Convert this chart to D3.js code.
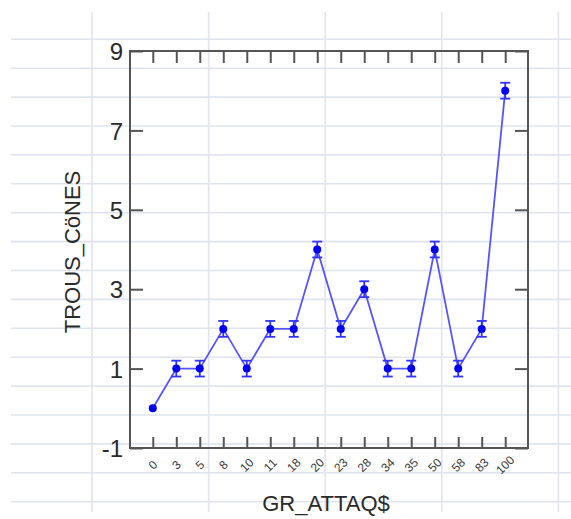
<!DOCTYPE html>
<html><head><meta charset="utf-8">
<script src="https://cdn.jsdelivr.net/npm/d3@7"></script>
<style>html,body{margin:0;padding:0;background:#fff;}svg{display:block;}</style>
</head><body>
<svg id="c" width="571" height="519"></svg>
<script>
const categories = ["0","3","5","8","10","11","18","20","23","28","34","35","50","58","83","100"];
const values = [0,1,1,2,1,2,2,4,2,3,1,1,4,1,2,8];
const errors = [0,0.2,0.2,0.2,0.2,0.2,0.2,0.2,0.2,0.2,0.2,0.2,0.2,0.2,0.2,0.2];
const yTicks = [-1,1,3,5,7,9];
const xTitle = "GR_ATTAQ$";
const yTitle = "TROUS_CöNES";

const W = 571, H = 519;
const m = {left:130, right:528, top:51, bottom:448};
const svg = d3.select("#c");

// background "paper" grid
const gridH = d3.range(17).map(i => 39.3 + i*28.9);
const gridV = d3.range(5).map(i => 92 + i*116.6);
svg.append("g").selectAll("line").data(gridH).join("line")
  .attr("x1",11).attr("x2",W).attr("y1",d=>d).attr("y2",d=>d)
  .attr("stroke","#dfe4ef").attr("stroke-width",1.6);
svg.append("g").selectAll("line").data(gridV).join("line")
  .attr("x1",d=>d).attr("x2",d=>d).attr("y1",12).attr("y2",512)
  .attr("stroke","#dfe4ef").attr("stroke-width",1.6);

const x = d3.scalePoint().domain(categories).range([m.left,m.right]).padding(0.97);
const y = d3.scaleLinear().domain([-1,9]).range([m.bottom,m.top]);

const tickColor = "#555";
const axL = svg.append("g").attr("transform",`translate(${m.left},0)`)
  .call(d3.axisLeft(y).tickValues(yTicks).tickSize(-13).tickFormat(d=>String(d)));
const axR = svg.append("g").attr("transform",`translate(${m.right},0)`)
  .call(d3.axisRight(y).tickValues(yTicks).tickSize(-13).tickFormat(""));
const axT = svg.append("g").attr("transform",`translate(0,${m.top})`)
  .call(d3.axisTop(x).tickSize(-12).tickFormat(""));
const axB = svg.append("g").attr("transform",`translate(0,${m.bottom})`)
  .call(d3.axisBottom(x).tickSize(-11).tickFormat(""));
[axL,axR,axT,axB].forEach(a=>{
  a.select(".domain").remove();
  a.selectAll(".tick line").attr("stroke",tickColor).attr("stroke-width",2);
});
axL.selectAll(".tick text").attr("font-family","Liberation Sans, Arial, sans-serif")
  .attr("font-size",24).attr("fill","#2a2a2a").attr("x",-7).attr("dy","0.36em");

// frame
svg.append("rect").attr("x",m.left).attr("y",m.top).attr("width",m.right-m.left).attr("height",m.bottom-m.top)
  .attr("fill","none").attr("stroke",tickColor).attr("stroke-width",2);

// x tick labels rotated
svg.append("g").selectAll("text").data(categories).join("text")
  .attr("transform",d=>`translate(${x(d)},${465}) rotate(-45)`)
  .attr("text-anchor","middle").attr("dy","0.35em")
  .attr("font-family","Liberation Sans, Arial, sans-serif").attr("font-size",12).attr("fill","#3a3a3a")
  .text(d=>d);

// titles
svg.append("text").attr("x",326).attr("y",511).attr("text-anchor","middle")
  .attr("font-family","Liberation Sans, Arial, sans-serif").attr("font-size",22).attr("fill","#2a2a2a").text(xTitle);
svg.append("text").attr("transform","translate(80,252) rotate(-90)").attr("text-anchor","middle")
  .attr("font-family","Liberation Sans, Arial, sans-serif").attr("font-size",22).attr("fill","#2a2a2a").text(yTitle);

// data
const pts = categories.map((c,i)=>({c, v:values[i], e:errors[i]}));
svg.append("path").datum(pts)
  .attr("d", d3.line().x(d=>x(d.c)).y(d=>y(d.v)))
  .attr("fill","none").attr("stroke","#5555ff").attr("stroke-width",1.8);

const eb = svg.append("g").attr("stroke","#3333ff").attr("stroke-width",1.8);
pts.filter(d=>d.e>0).forEach(d=>{
  eb.append("line").attr("x1",x(d.c)).attr("x2",x(d.c)).attr("y1",y(d.v-d.e)).attr("y2",y(d.v+d.e));
  eb.append("line").attr("x1",x(d.c)-5).attr("x2",x(d.c)+5).attr("y1",y(d.v-d.e)).attr("y2",y(d.v-d.e));
  eb.append("line").attr("x1",x(d.c)-5).attr("x2",x(d.c)+5).attr("y1",y(d.v+d.e)).attr("y2",y(d.v+d.e));
});
svg.append("g").selectAll("circle").data(pts).join("circle")
  .attr("cx",d=>x(d.c)).attr("cy",d=>y(d.v)).attr("r",4).attr("fill","#0000ee");
</script>
</body></html>
